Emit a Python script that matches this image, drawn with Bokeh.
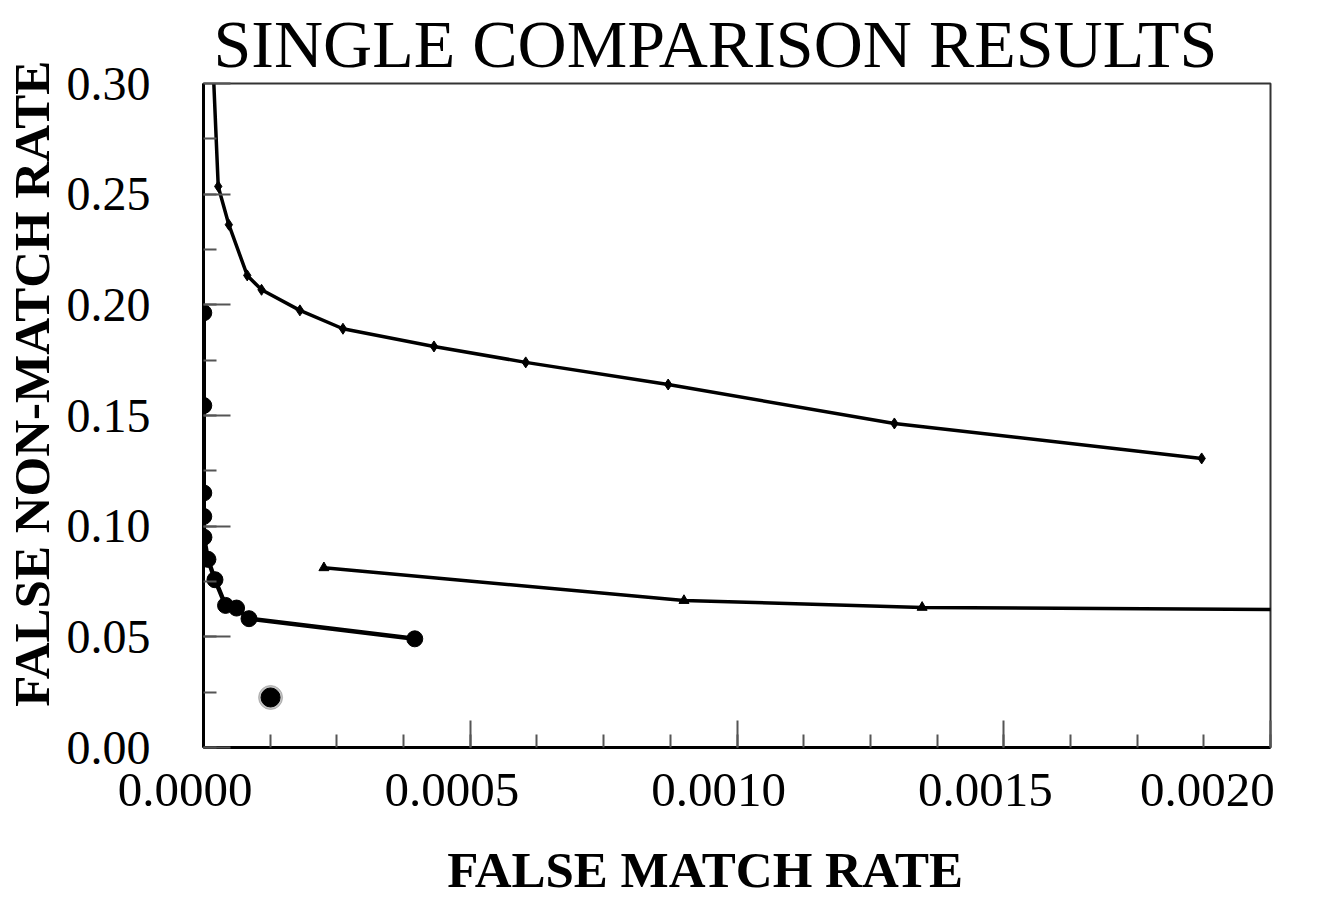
from bokeh.plotting import figure
from bokeh.models import FixedTicker, NumeralTickFormatter, Range1d
from bokeh.embed import file_html
from bokeh.resources import INLINE

# Series A (upper curve, small diamonds)
fmr_a = [0.0000158, 0.0000276, 0.0000475, 0.000082, 0.0001088, 0.0001807, 0.0002614,
         0.000432, 0.000604, 0.000871, 0.001295, 0.001871]
fnmr_a = [0.320, 0.2535, 0.2362, 0.2133, 0.2068, 0.1975, 0.1892,
          0.1812, 0.1740, 0.1640, 0.1464, 0.1306]

# Series B (middle curve, triangles)
fmr_b = [0.0002257, 0.0009006, 0.001347, 0.0022]
fnmr_b = [0.0812, 0.0664, 0.0633, 0.0620]

# Series C (lower curve, large circles)
fmr_c = [0.0000005, 0.0000005, 0.0000005, 0.0000005, 0.0000008, 0.0000083, 0.0000215,
         0.0000413, 0.0000620, 0.0000853, 0.0003960]
fnmr_c = [0.1964, 0.1545, 0.1150, 0.1044, 0.0950, 0.0850, 0.0758,
          0.0642, 0.0630, 0.0582, 0.0491]

# Single operating point
fmr_d = [0.0001257]
fnmr_d = [0.0226]

x_major = [0.0, 0.0005, 0.0010, 0.0015, 0.0020]
x_labels = ["0.0000", "0.0005", "0.0010", "0.0015", "0.0020"]
x_minor = [0.000125 * i for i in range(17)]
y_major = [0.0, 0.05, 0.10, 0.15, 0.20, 0.25, 0.30]
y_minor = [0.025 * i for i in range(13)]

TITLE = "SINGLE COMPARISON RESULTS"
X_TITLE = "FALSE MATCH RATE"
Y_TITLE = "FALSE NON-MATCH RATE"

SERIF = "Liberation Serif"
NBSP = "\u00a0"
X0, X1 = 0.0, 0.002
Y0, Y1 = 0.0, 0.30

p = figure(width=1311, height=900, output_backend="svg", toolbar_location=None,
           x_range=Range1d(X0, X1), y_range=Range1d(Y0, Y1),
           min_border_left=203, min_border_right=41, min_border_top=83, min_border_bottom=153,
           title=TITLE)

p.title.text_font = SERIF
p.title.text_font_size = "68px"
p.title.text_font_style = "normal"
p.title.text_color = "black"
p.title.align = "left"
p.title.offset = 10
p.title.standoff = 4

p.grid.visible = False
p.outline_line_color = "#333333"
p.outline_line_width = 2

for ax in (p.xaxis[0], p.yaxis[0]):
    ax.axis_line_color = "black"
    ax.axis_line_width = 3
    ax.major_tick_in = 27
    ax.major_tick_out = 0
    ax.minor_tick_in = 13
    ax.minor_tick_out = 0
    ax.major_tick_line_color = "#555555"
    ax.minor_tick_line_color = "#555555"
    ax.major_tick_line_width = 2
    ax.minor_tick_line_width = 2
    ax.major_label_text_font = SERIF
    ax.major_label_text_color = "black"
    ax.axis_label_text_font = SERIF
    ax.axis_label_text_font_size = "51px"
    ax.axis_label_text_font_style = "bold"
    ax.axis_label_text_color = "black"

# x axis: labels sit a little left of their ticks, as in the reference
p.xaxis[0].ticker = FixedTicker(ticks=x_major, minor_ticks=x_minor)
p.xaxis[0].major_label_overrides = {t: lab + NBSP * 3 for t, lab in zip(x_major, x_labels)}
p.xaxis[0].major_label_text_font_size = "49px"
p.xaxis[0].major_label_standoff = 14
p.xaxis[0].axis_label = X_TITLE + NBSP * 5
p.xaxis[0].axis_label_standoff = 22

# y axis
p.yaxis[0].ticker = FixedTicker(ticks=y_major, minor_ticks=y_minor)
p.yaxis[0].formatter = NumeralTickFormatter(format="0.00")
p.yaxis[0].major_label_text_font_size = "48px"
p.yaxis[0].major_label_standoff = 53
p.yaxis[0].axis_label = NBSP * 5 + Y_TITLE
p.yaxis[0].axis_label_standoff = 4

# Series A
p.line(fmr_a, fnmr_a, line_color="black", line_width=3.5)
p.scatter(fmr_a, fnmr_a, marker="diamond", size=11, color="black")

# Series B
p.line(fmr_b, fnmr_b, line_color="black", line_width=3.5)
p.scatter(fmr_b, fnmr_b, marker="triangle", size=10, color="black")

# Series C
p.line(fmr_c, fnmr_c, line_color="black", line_width=4.5)
p.scatter(fmr_c, fnmr_c, marker="circle", size=16, color="black")

# Single point
p.scatter(fmr_d, fnmr_d, marker="circle", size=24, color="#888888", alpha=0.5)
p.scatter(fmr_d, fnmr_d, marker="circle", size=19, color="black")

open("out.html", "w").write(file_html(p, INLINE))
